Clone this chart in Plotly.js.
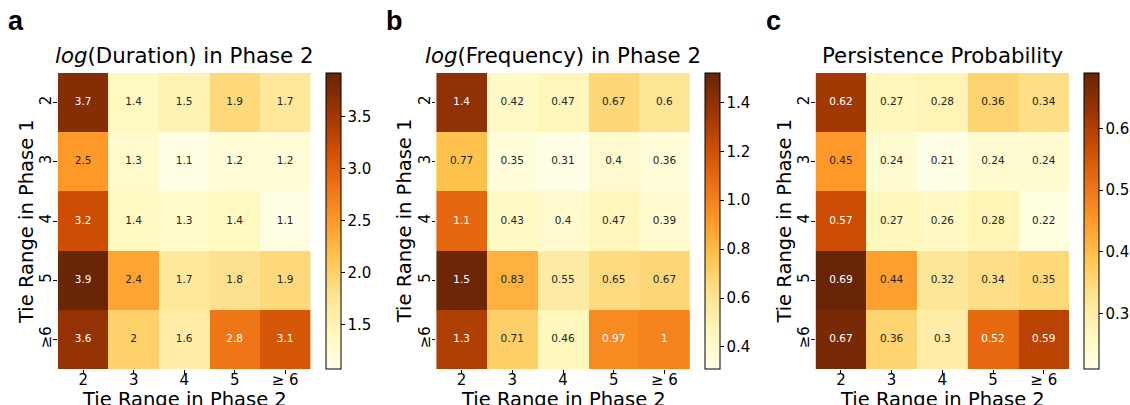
<!DOCTYPE html>
<html>
<head>
<meta charset="utf-8">
<script src="https://cdn.plot.ly/plotly-3.0.1.min.js"></script>
<style>html,body{margin:0;padding:0;background:#fff;}#chart{width:1130px;height:405px;}</style>
</head>
<body>
<div id="chart"></div>
<script>
// ---- data ----
const phase2Labels = ['2', '3', '4', '5', '≥ 6'];   // columns (Tie Range in Phase 2)
const phase1Labels = ['2', '3', '4', '5', '≥6'];    // rows (Tie Range in Phase 1)

const logDuration = [
  [3.7, 1.4, 1.5, 1.9, 1.7],
  [2.5, 1.3, 1.1, 1.2, 1.2],
  [3.2, 1.4, 1.3, 1.4, 1.1],
  [3.9, 2.4, 1.7, 1.8, 1.9],
  [3.6, 2,   1.6, 2.8, 3.1]
];
const logFrequency = [
  [1.4,  0.42, 0.47, 0.67, 0.6],
  [0.77, 0.35, 0.31, 0.4,  0.36],
  [1.1,  0.43, 0.4,  0.47, 0.39],
  [1.5,  0.83, 0.55, 0.65, 0.67],
  [1.3,  0.71, 0.46, 0.97, 1]
];
const persistence = [
  [0.62, 0.27, 0.28, 0.36, 0.34],
  [0.45, 0.24, 0.21, 0.24, 0.24],
  [0.57, 0.27, 0.26, 0.28, 0.22],
  [0.69, 0.44, 0.32, 0.34, 0.35],
  [0.67, 0.36, 0.3,  0.52, 0.59]
];
const panelTitles = ['<i>log</i>(Duration) in Phase 2', '<i>log</i>(Frequency) in Phase 2', 'Persistence Probability'];
const panelLetters = ['a', 'b', 'c'];
const xAxisTitle = 'Tie Range in Phase 2';
const yAxisTitle = 'Tie Range in Phase 1';
const colorRanges = [[1.07, 3.92], [0.31, 1.52], [0.21, 0.69]];
const colorTicks = [[1.5, 2.0, 2.5, 3.0, 3.5], [0.4, 0.6, 0.8, 1.0, 1.2, 1.4], [0.3, 0.4, 0.5, 0.6]];

// ---- style ----
const ylorbrHex = ['#ffffe5','#fff7bc','#fee391','#fec44f','#fe9929','#ec7014','#cc4c02','#993404','#662506'];
const colorscale = ylorbrHex.map((c, i) => [i / (ylorbrHex.length - 1), c]);
const FONT = 'DejaVu Sans';
const W = 1130, H = 405;
const xDomPx = [[58, 311], [437, 691], [817, 1071]];
const cbLeftPx = [327, 706, 1086];
const yDom = [(H - 369) / H, (H - 73) / H];

function hexToRgb(h) { return [1, 3, 5].map(i => parseInt(h.substr(i, 2), 16) / 255); }
function colorAt(t) {
  t = Math.max(0, Math.min(1, t));
  const n = ylorbrHex.length - 1, p = t * n, i = Math.min(Math.floor(p), n - 1), f = p - i;
  const a = hexToRgb(ylorbrHex[i]), b = hexToRgb(ylorbrHex[i + 1]);
  return a.map((v, k) => v + (b[k] - v) * f);
}
function lum(rgb) {
  const l = rgb.map(c => c <= 0.03928 ? c / 12.92 : Math.pow((c + 0.055) / 1.055, 2.4));
  return 0.2126 * l[0] + 0.7152 * l[1] + 0.0722 * l[2];
}

const datasets = [logDuration, logFrequency, persistence];
const traces = [];
const annotations = [];
const layout = {
  width: W, height: H,
  margin: {l: 0, r: 0, t: 0, b: 0},
  paper_bgcolor: '#fff', plot_bgcolor: '#fff',
  font: {family: FONT, color: '#000'},
  showlegend: false,
  annotations: annotations
};

datasets.forEach((z, p) => {
  const sfx = p === 0 ? '' : String(p + 1);
  const [zmin, zmax] = colorRanges[p];
  traces.push({
    type: 'heatmap',
    z: z, x: phase2Labels, y: phase1Labels,
    xaxis: 'x' + sfx, yaxis: 'y' + sfx,
    zmin: zmin, zmax: zmax,
    colorscale: colorscale,
    hoverinfo: 'skip',
    colorbar: {
      x: cbLeftPx[p] / W, xanchor: 'left', xpad: 0,
      y: yDom[1], yanchor: 'top', ypad: 0,
      len: yDom[1] - yDom[0], lenmode: 'fraction',
      thickness: 15, thicknessmode: 'pixels',
      outlinewidth: 1, outlinecolor: '#000',
      tickmode: 'array', tickvals: colorTicks[p], ticktext: colorTicks[p].map(v => v.toFixed(1)),
      ticks: 'outside', ticklen: 3.5, tickcolor: '#000',
      tickfont: {family: FONT, size: 15, color: '#000'}
    }
  });
  const tx = [], ty = [], tt = [], tc = [];
  z.forEach((row, r) => row.forEach((v, c) => {
    tx.push(phase2Labels[c]); ty.push(phase1Labels[r]); tt.push(String(v));
    tc.push(lum(colorAt((v - zmin) / (zmax - zmin))) < 0.408 ? '#ffffff' : '#262626');
  }));
  traces.push({
    type: 'scatter', mode: 'text',
    x: tx, y: ty, text: tt,
    xaxis: 'x' + sfx, yaxis: 'y' + sfx,
    textfont: {family: FONT, size: 10.5, color: tc},
    hoverinfo: 'skip'
  });
  layout['xaxis' + sfx] = {
    domain: [xDomPx[p][0] / W, xDomPx[p][1] / W],
    anchor: 'y' + sfx,
    type: 'category',
    showgrid: false, zeroline: false, showline: false,
    ticks: 'outside', ticklen: 3.5, tickcolor: '#000',
    tickangle: 0, ticklabelstandoff: -7,
    tickfont: {family: FONT, size: 15, color: '#000'},
    automargin: false, fixedrange: true
  };
  layout['yaxis' + sfx] = {
    domain: yDom,
    anchor: 'x' + sfx,
    type: 'category',
    autorange: 'reversed',
    showgrid: false, zeroline: false, showline: false,
    ticks: 'outside', ticklen: 3.5, tickcolor: '#000',
    tickangle: -90, ticklabelstandoff: -4,
    tickfont: {family: FONT, size: 15, color: '#000'},
    automargin: false, fixedrange: true
  };
  const cx = (xDomPx[p][0] + xDomPx[p][1]) / 2 / W;
  // panel title
  annotations.push({
    xref: 'paper', yref: 'paper', x: cx, y: (H - 70) / H,
    xanchor: 'center', yanchor: 'bottom',
    text: panelTitles[p], showarrow: false,
    font: {family: FONT, size: 21.3, color: '#000'}
  });
  // x axis title
  annotations.push({
    xref: 'paper', yref: 'paper', x: cx, y: (H - 386) / H,
    xanchor: 'center', yanchor: 'top',
    text: xAxisTitle, showarrow: false,
    font: {family: FONT, size: 19.5, color: '#000'}
  });
  // y axis title
  annotations.push({
    xref: 'paper', yref: 'paper', x: (xDomPx[p][0] - 31) / W, y: (yDom[0] + yDom[1]) / 2,
    xanchor: 'center', yanchor: 'middle', textangle: -90,
    text: yAxisTitle, showarrow: false,
    font: {family: FONT, size: 19.5, color: '#000'}
  });
  // panel letter
  annotations.push({
    xref: 'paper', yref: 'paper', x: (xDomPx[p][0] - 52) / W, y: (H - 4) / H,
    xanchor: 'left', yanchor: 'top',
    text: '<b>' + panelLetters[p] + '</b>', showarrow: false,
    font: {family: 'Liberation Sans', size: 27, color: '#000'}
  });
});

Plotly.newPlot('chart', traces, layout, {displayModeBar: false, staticPlot: true});
</script>
</body>
</html>
